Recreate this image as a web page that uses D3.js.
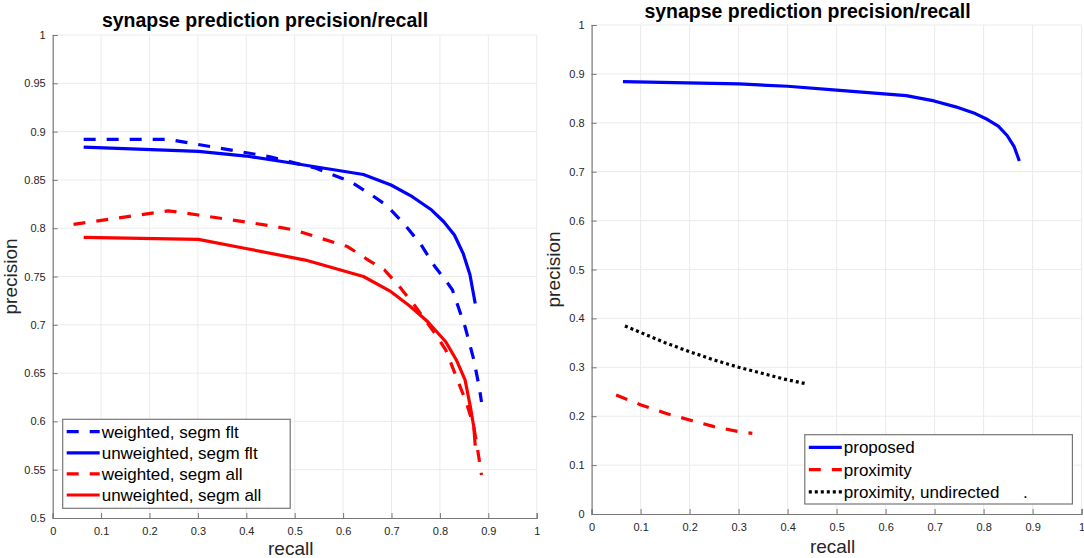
<!DOCTYPE html>
<html>
<head>
<meta charset="utf-8">
<script src="https://cdn.jsdelivr.net/npm/d3@7/dist/d3.min.js"></script>
<style>
  body { margin: 0; background: #fff; }
  text { font-family: "Liberation Sans", Arial, sans-serif; }
</style>
</head>
<body>
<script>
const width = 1084;
const height = 558;

// [recall, precision] pairs
const unweightedFlt = [
  [0.064, 0.884], [0.301, 0.8795], [0.40, 0.8747], [0.50, 0.867], [0.642, 0.8556],
  [0.699, 0.8447], [0.743, 0.8326], [0.783, 0.8188], [0.808, 0.8067], [0.830, 0.793],
  [0.848, 0.774], [0.862, 0.752], [0.873, 0.722]
];
const weightedFlt = [
  [0.064, 0.892], [0.239, 0.892], [0.297, 0.887], [0.449, 0.874], [0.544, 0.862],
  [0.616, 0.848], [0.66, 0.834], [0.689, 0.824], [0.725, 0.805], [0.761, 0.783],
  [0.79, 0.76], [0.812, 0.746], [0.826, 0.736], [0.852, 0.698], [0.87, 0.664],
  [0.881, 0.636], [0.886, 0.62]
];
const weightedAll = [
  [0.043, 0.804], [0.239, 0.818], [0.301, 0.8137], [0.457, 0.802], [0.5, 0.798],
  [0.609, 0.781], [0.652, 0.767], [0.685, 0.757], [0.714, 0.741], [0.747, 0.7205],
  [0.79, 0.691], [0.812, 0.674], [0.834, 0.646], [0.855, 0.619], [0.87, 0.5945],
  [0.877, 0.574], [0.886, 0.5445]
];
const unweightedAll = [
  [0.064, 0.7906], [0.301, 0.7885], [0.399, 0.779], [0.522, 0.767], [0.642, 0.75],
  [0.699, 0.7343], [0.739, 0.719], [0.775, 0.7032], [0.812, 0.6825], [0.834, 0.6636],
  [0.852, 0.643], [0.863, 0.615], [0.87, 0.5945], [0.873, 0.575]
];
const proposed = unweightedFlt;
const proximity = [
  [0.05, 0.2434], [0.101, 0.2229], [0.151, 0.206], [0.2, 0.1922], [0.25, 0.1786],
  [0.3, 0.1684], [0.328, 0.165]
];
const proximityUndirected = [
  [0.068, 0.3845], [0.101, 0.3708], [0.15, 0.3503], [0.2, 0.3319], [0.25, 0.315],
  [0.3, 0.3], [0.3925, 0.276], [0.437, 0.2665]
];

const xTicks = d3.range(0, 11).map(i => i / 10);
const leftYTicks = d3.range(0, 11).map(i => 0.5 + i * 0.05);
const rightYTicks = d3.range(0, 11).map(i => i / 10);
const fmt = v => (Math.round(v * 100) / 100).toString();

const leftLegend = ["weighted, segm flt", "unweighted, segm flt", "weighted, segm all", "unweighted, segm all"];
const rightLegend = ["proposed", "proximity", "proximity, undirected     ."];

const styles = {
  dashed: "12 11",
  dotted: "3 3",
  solid: null
};

const svg = d3
  .select("body")
  .append("svg")
  .attr("width", width)
  .attr("height", height);

function drawPanel(cfg) {
  const x = d3.scaleLinear().domain([0, 1]).range([cfg.left, cfg.left + cfg.w]);
  const y = d3.scaleLinear().domain(cfg.yDomain).range([cfg.top + cfg.h, cfg.top]);
  const g = svg.append("g");

  // grid
  g.selectAll(".gx")
    .data(xTicks.slice(1))
    .join("line")
    .attr("x1", d => x(d)).attr("x2", d => x(d))
    .attr("y1", cfg.top).attr("y2", cfg.top + cfg.h)
    .attr("stroke", "#ebebeb").attr("stroke-width", 1);
  g.selectAll(".gy")
    .data(cfg.yTicks.slice(1))
    .join("line")
    .attr("x1", cfg.left).attr("x2", cfg.left + cfg.w)
    .attr("y1", d => y(d)).attr("y2", d => y(d))
    .attr("stroke", "#ebebeb").attr("stroke-width", 1);

  // axes (ticks pointing inward)
  const xAxis = d3.axisBottom(x).tickValues(xTicks).tickFormat(fmt).tickSize(-5).tickPadding(9);
  const yAxis = d3.axisLeft(y).tickValues(cfg.yTicks).tickFormat(fmt).tickSize(-5).tickPadding(7);
  const ax = g.append("g").attr("transform", `translate(0,${cfg.top + cfg.h})`).call(xAxis);
  const ay = g.append("g").attr("transform", `translate(${cfg.left},0)`).call(yAxis);
  [ax, ay].forEach(a => {
    a.select(".domain").attr("stroke", "#777").attr("stroke-width", 1.2);
    a.selectAll(".tick line").attr("stroke", "#777");
    a.selectAll(".tick text")
      .attr("fill", "#262626")
      .style("font-size", "11px")
      .style("font-family", "'Liberation Sans', Arial, sans-serif");
  });

  // series
  const line = d3.line().x(d => x(d[0])).y(d => y(d[1]));
  cfg.series.forEach(s => {
    g.append("path")
      .datum(s.data)
      .attr("d", line)
      .attr("fill", "none")
      .attr("stroke", s.color)
      .attr("stroke-width", 3.2)
      .attr("stroke-linejoin", "round")
      .attr("stroke-dasharray", styles[s.style]);
  });

  // title and labels
  g.append("text")
    .attr("x", cfg.titleX).attr("y", cfg.titleY)
    .attr("text-anchor", "middle")
    .style("font-size", "19.5px").style("font-weight", "bold")
    .text("synapse prediction precision/recall");
  g.append("text")
    .attr("x", cfg.left + cfg.w / 2 - 4).attr("y", cfg.top + cfg.h + cfg.xLabelDy)
    .attr("text-anchor", "middle")
    .attr("fill", "#262626")
    .style("font-size", "19px")
    .text("recall");
  g.append("text")
    .attr("transform", `translate(${cfg.yLabelX},${cfg.top + cfg.h / 2}) rotate(-90)`)
    .attr("text-anchor", "middle")
    .attr("fill", "#262626")
    .style("font-size", "19px")
    .text("precision");

  // legend
  const lg = cfg.legend;
  g.append("rect")
    .attr("x", lg.x).attr("y", lg.y).attr("width", lg.w).attr("height", lg.h)
    .attr("fill", "#fff").attr("stroke", "#777").attr("stroke-width", 1.2);
  cfg.series.forEach((s, i) => {
    const cy = lg.y + lg.first + i * lg.step;
    g.append("line")
      .attr("x1", lg.x + 4).attr("x2", lg.x + 37)
      .attr("y1", cy).attr("y2", cy)
      .attr("stroke", s.color).attr("stroke-width", 3.2)
      .attr("stroke-dasharray", styles[s.style]);
    g.append("text")
      .attr("x", lg.x + 39).attr("y", cy)
      .attr("dy", "0.36em")
      .attr("fill", "#000")
      .attr("xml:space", "preserve")
      .style("white-space", "pre")
      .style("font-size", "17px")
      .text(lg.labels[i]);
  });
}

drawPanel({
  left: 52.7, top: 35, w: 484, h: 483,
  yDomain: [0.5, 1], yTicks: leftYTicks,
  titleX: 265, titleY: 27, xLabelDy: 37, yLabelX: 16.5,
  series: [
    { data: weightedFlt, color: "#0000ff", style: "dashed" },
    { data: unweightedFlt, color: "#0000ff", style: "solid" },
    { data: weightedAll, color: "#ff0000", style: "dashed" },
    { data: unweightedAll, color: "#ff0000", style: "solid" }
  ],
  legend: { x: 62.7, y: 419.3, w: 227.5, h: 89, first: 12.4, step: 21.1, labels: leftLegend }
});

drawPanel({
  left: 591.6, top: 25, w: 490, h: 489,
  yDomain: [0, 1], yTicks: rightYTicks,
  titleX: 807.5, titleY: 17.5, xLabelDy: 39, yLabelX: 560,
  series: [
    { data: proposed, color: "#0000ff", style: "solid" },
    { data: proximity, color: "#ff0000", style: "dashed" },
    { data: proximityUndirected, color: "#000000", style: "dotted" }
  ],
  legend: { x: 804.8, y: 434.7, w: 267.6, h: 69.3, first: 12.6, step: 22.3, labels: rightLegend }
});
</script>
</body>
</html>
